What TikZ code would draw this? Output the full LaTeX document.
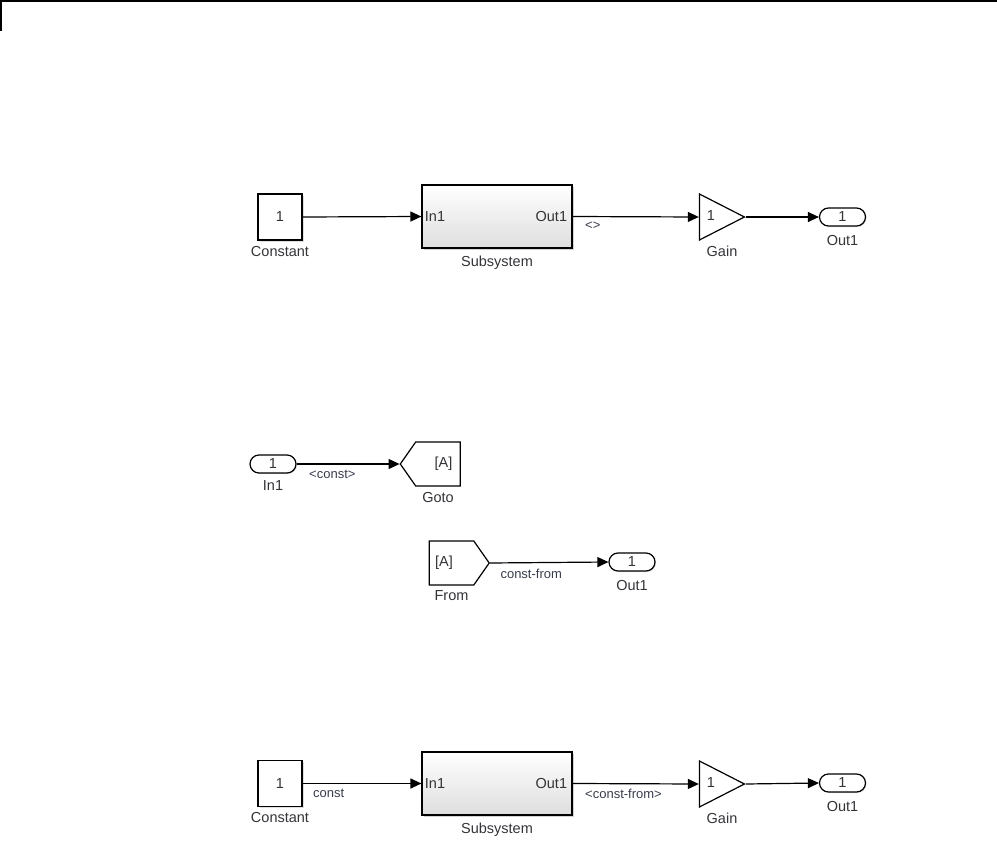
\documentclass[tikz,border=0pt]{standalone}
\usepackage{fontspec}
\setmainfont{Liberation Sans}
\usepackage{xcolor}
\definecolor{txtgray}{rgb}{0.2,0.2,0.22}
\definecolor{siggray}{rgb}{0.22,0.24,0.3}
\usepackage{tikz}
\usetikzlibrary{shapes.geometric, shapes.symbols, arrows.meta, positioning, shadows}

\begin{document}
\begin{tikzpicture}[x=1pt, y=-1pt,
	font=\fontsize{14.5}{16}\selectfont, text=txtgray,
	blk/.style={rectangle, draw=black, fill=white, line width=1.2pt, minimum width=44pt,
	            minimum height=46pt, inner sep=0pt, drop shadow={shadow xshift=1.5pt, shadow yshift=-1.5pt, opacity=0.25}},
	subsys/.style={rectangle, draw=black, line width=1.2pt, top color=white, bottom color=black!13,
	               minimum width=150pt, minimum height=63pt, inner sep=0pt,
	               drop shadow={shadow xshift=2pt, shadow yshift=-2pt, opacity=0.35}},
	port/.style={rectangle, rounded corners=9pt, draw=black, fill=white, line width=1.2pt,
	             minimum width=46pt, minimum height=18pt, inner sep=0pt,
	             drop shadow={shadow xshift=1pt, shadow yshift=-1pt, opacity=0.25}},
	gain/.style={isosceles triangle, isosceles triangle stretches, draw=black, fill=white,
	             line width=1.2pt, minimum width=46pt, minimum height=45pt, inner sep=0pt},
	tag/.style={signal, draw=black, fill=white, line width=1.2pt, signal pointer angle=110,
	            minimum width=60pt, minimum height=44pt, inner sep=0pt},
	below label/.style 2 args={label={[label distance=#1, text=txtgray]below:#2}},
	sig/.style={font=\fontsize{13}{15}\selectfont, text=siggray, anchor=north west, inner sep=0pt},
	arr/.style={-{Triangle[length=11pt, width=10pt]}, line width=1.2pt}
	]
\useasboundingbox (0,0) rectangle (997,851);
\draw[line width=1.5pt] (0,1) -- (997,1);
\draw[line width=1.5pt] (1,0) -- (1,31);

% upper model
\node[blk, below label={2pt}{Constant}] (c1) at (280,217) {1};
\node[subsys, below label={4pt}{Subsystem}] (s1) at (497,216.5) {};
\node[anchor=west] at ([xshift=0pt]s1.west) {In1};
\node[anchor=east] at ([xshift=-2pt]s1.east) {Out1};
\node[gain] (g1) at (713.5,217) {};
\node at (711,216) {1};
\node[below=2pt] at (722,240) {Gain};
\node[port, below label={5pt}{Out1}] (o1) at (842.5,217) {1};
\draw[arr] (c1.east) -- (s1.west);
\draw[arr] (s1.east) -- node[sig, pos=0, xshift=12pt, yshift=-5pt] {<>} (g1.west);
\draw[arr] (g1.east) -- (o1.west);

% goto / from
\node[port, below label={3pt}{In1}] (i2) at (273,464) {1};
\node[tag, signal to=west, below label={2pt}{Goto}] (goto) at (438,464) {\kern11pt[A]};
\node[tag, signal to=east, below label={1pt}{From}] (from) at (451.5,563) {[A]\kern15pt};
\node[port, below label={5pt}{Out1}] (o2) at (632,562) {1};
\draw[arr] (i2.east) -- node[sig, pos=0, xshift=12pt, yshift=-5pt] {<const>} (goto.west);
\draw[arr] (from.east) -- node[sig, pos=0, xshift=10pt, yshift=-5pt] {const-from} (o2.west);

% lower model
\node[blk, below label={2pt}{Constant}] (c3) at (280,783.5) {1};
\node[subsys, below label={4pt}{Subsystem}] (s3) at (497,783.5) {};
\node[anchor=west] at ([xshift=0pt]s3.west) {In1};
\node[anchor=east] at ([xshift=-2pt]s3.east) {Out1};
\node[gain] (g3) at (713.5,784) {};
\node at (711,783) {1};
\node[below=2pt] at (722,807) {Gain};
\node[port, below label={5pt}{Out1}] (o3) at (842.5,783) {1};
\draw[arr] (c3.east) -- node[sig, pos=0, xshift=10pt, yshift=-5pt] {const} (s3.west);
\draw[arr] (s3.east) -- node[sig, pos=0, xshift=12pt, yshift=-5pt] {<const-from>} (g3.west);
\draw[arr] (g3.east) -- (o3.west);
\end{tikzpicture}
\end{document}
